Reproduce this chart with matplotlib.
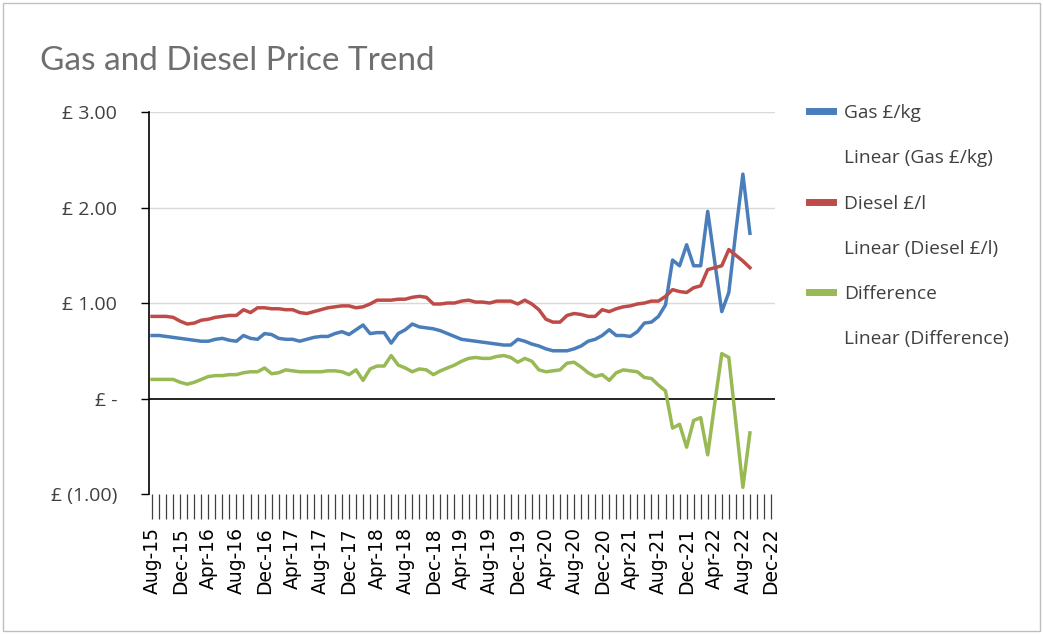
import matplotlib
matplotlib.use("Agg")
import matplotlib.pyplot as plt
from matplotlib.lines import Line2D
from matplotlib.patches import Rectangle

# Monthly prices, Aug-15 .. Sep-22
gas = [0.66, 0.66, 0.65, 0.64, 0.63, 0.62, 0.61, 0.60, 0.60, 0.62,
       0.63, 0.61, 0.60, 0.66, 0.63, 0.62, 0.68, 0.67, 0.63, 0.62,
       0.62, 0.60, 0.62, 0.64, 0.65, 0.65, 0.68, 0.70, 0.67, 0.72,
       0.77, 0.68, 0.69, 0.69, 0.58, 0.68, 0.72, 0.78, 0.75, 0.74,
       0.73, 0.71, 0.68, 0.65, 0.62, 0.61, 0.60, 0.59, 0.58, 0.57,
       0.56, 0.56, 0.62, 0.60, 0.57, 0.55, 0.52, 0.50, 0.50, 0.50,
       0.52, 0.55, 0.60, 0.62, 0.66, 0.72, 0.66, 0.66, 0.65, 0.70,
       0.79, 0.80, 0.86, 0.98, 1.45, 1.39, 1.61, 1.39, 1.39, 1.96,
       1.43, 0.91, 1.11, 1.75, 2.35, 1.73]

diesel = [0.86, 0.86, 0.86, 0.85, 0.81, 0.78, 0.79, 0.82, 0.83, 0.85,
          0.86, 0.87, 0.87, 0.93, 0.90, 0.95, 0.95, 0.94, 0.94, 0.93,
          0.93, 0.90, 0.89, 0.91, 0.93, 0.95, 0.96, 0.97, 0.97, 0.95,
          0.96, 0.99, 1.03, 1.03, 1.03, 1.04, 1.04, 1.06, 1.07, 1.06,
          0.99, 0.99, 1.00, 1.00, 1.02, 1.03, 1.01, 1.01, 1.00, 1.02,
          1.02, 1.02, 0.99, 1.03, 0.99, 0.93, 0.83, 0.80, 0.80, 0.87,
          0.89, 0.88, 0.86, 0.86, 0.93, 0.91, 0.94, 0.96, 0.97, 0.99,
          1.00, 1.02, 1.02, 1.07, 1.14, 1.12, 1.11, 1.16, 1.18, 1.35,
          1.37, 1.39, 1.56, 1.50, 1.44, 1.37]

difference = [0.20, 0.20, 0.20, 0.20, 0.17, 0.15, 0.17, 0.20, 0.23, 0.24,
              0.24, 0.25, 0.25, 0.27, 0.28, 0.28, 0.32, 0.26, 0.27, 0.30,
              0.29, 0.28, 0.28, 0.28, 0.28, 0.29, 0.29, 0.28, 0.25, 0.30,
              0.19, 0.31, 0.34, 0.34, 0.45, 0.35, 0.32, 0.28, 0.31, 0.30,
              0.25, 0.29, 0.32, 0.35, 0.39, 0.42, 0.43, 0.42, 0.42, 0.44,
              0.45, 0.43, 0.38, 0.42, 0.39, 0.30, 0.28, 0.29, 0.30, 0.37,
              0.38, 0.33, 0.27, 0.23, 0.25, 0.19, 0.27, 0.30, 0.29, 0.28,
              0.22, 0.21, 0.14, 0.08, -0.31, -0.27, -0.51, -0.23, -0.20, -0.59,
              -0.05, 0.47, 0.43, -0.25, -0.93, -0.36]

# axis runs Aug-15 .. Dec-22, labelled every 4 months
n_months = 89
tick_labels = ['Aug-15', 'Dec-15', 'Apr-16', 'Aug-16', 'Dec-16', 'Apr-17',
               'Aug-17', 'Dec-17', 'Apr-18', 'Aug-18', 'Dec-18', 'Apr-19',
               'Aug-19', 'Dec-19', 'Apr-20', 'Aug-20', 'Dec-20', 'Apr-21',
               'Aug-21', 'Dec-21', 'Apr-22', 'Aug-22', 'Dec-22']
y_ticks = [-1, 0, 1, 2, 3]
y_labels = ['£ (1.00)', '£ -', '£ 1.00', '£ 2.00', '£ 3.00']

blue, red, green = '#4A7EBB', '#BE4B48', '#98B954'
txt = '#404040'

fig = plt.figure(figsize=(10.43, 6.34), dpi=100)
fig.patches.append(Rectangle((0.003, 0.005), 0.994, 0.99, transform=fig.transFigure,
                             fill=False, edgecolor='#bfbfbf', linewidth=1))
ax = fig.add_axes([0.1424, 0.2208, 0.6002, 0.6025])

x = range(len(gas))
ax.plot(x, gas, color=blue, lw=2.5, solid_joinstyle='round')
ax.plot(x, diesel, color=red, lw=2.5, solid_joinstyle='round')
ax.plot(x, difference, color=green, lw=2.5, solid_joinstyle='round')

ax.set_xlim(-0.5, n_months - 0.5)
ax.set_ylim(-1, 3)
for v in [1, 2, 3]:
    ax.axhline(v, color='#d9d9d9', lw=1, zorder=0)
ax.axhline(0, color='#000000', lw=1.2, zorder=1)

ax.set_yticks(y_ticks)
ax.set_yticklabels(y_labels, fontsize=14, color=txt, family='Open Sans')
ax.tick_params(axis='y', length=6, width=1, color='#000000', pad=16.5)

ax.set_xticks(range(n_months))
ax.set_xticklabels([tick_labels[i // 4] if i % 4 == 0 else '' for i in range(n_months)],
                   rotation=90, fontsize=13.5, color='#000000', family='DejaVu Sans')
ax.tick_params(axis='x', length=18, width=0.9, color='#404040', pad=6)

for s in ['top', 'right', 'bottom']:
    ax.spines[s].set_visible(False)
ax.spines['left'].set_color('#000000')
ax.spines['left'].set_linewidth(1.2)

fig.text(0.038, 0.903, 'Gas and Diesel Price Trend', fontsize=24, color='#6f6f6f',
         family='Lato', va='center')

handles = [Line2D([], [], color=blue, lw=5),
           Line2D([], [], color='none', lw=5),
           Line2D([], [], color=red, lw=5),
           Line2D([], [], color='none', lw=5),
           Line2D([], [], color=green, lw=5),
           Line2D([], [], color='none', lw=5)]
labels = ['Gas £/kg', 'Linear (Gas £/kg)', 'Diesel £/l', 'Linear (Diesel £/l)',
          'Difference', 'Linear (Difference)']
leg = fig.legend(handles, labels, loc='upper left', bbox_to_anchor=(0.759, 0.863),
                 frameon=False, handlelength=1.25, handletextpad=0.6, labelspacing=1.42,
                 prop={'family': 'Open Sans', 'size': 13.8})
for t in leg.get_texts():
    t.set_color(txt)

fig.savefig('out.png', dpi=100)
